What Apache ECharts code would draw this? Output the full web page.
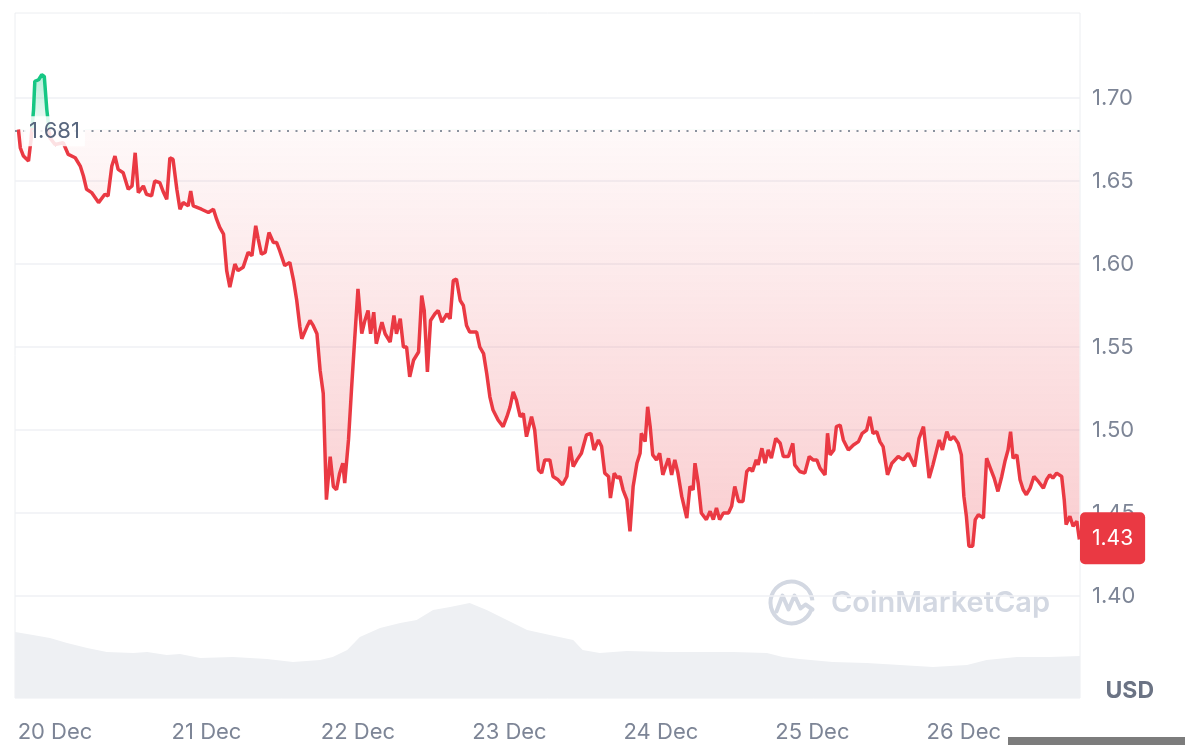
<!DOCTYPE html>
<html>
<head>
<meta charset="utf-8">
<title>Price chart</title>
<script src="https://cdn.jsdelivr.net/npm/echarts@6.0.0/dist/echarts.min.js"></script>
<style>
  html, body { margin: 0; padding: 0; background: #fff; }
  #chart { width: 1185px; height: 745px; }
</style>
</head>
<body>
<div id="chart"></div>
<script>
// price readings: hours from 20 Dec 00:00 and USD price
const hours = [
  -5.8, -5.5, -5.0, -4.2, -3.8, -3.4, -3.2, -2.6, -2.1, -1.7, -1.3, -0.8, 0.0, 1.3, 2.1, 3.2, 4.0, 4.5, 5.0, 5.8,
  6.9, 7.9, 8.4, 9.0, 9.5, 10.0, 10.8, 11.6, 12.2, 12.7, 13.2, 14.0, 14.5, 15.3, 15.8, 16.6, 17.2, 17.7, 18.2, 18.7,
  19.3, 19.8, 20.3, 21.1, 21.5, 21.9, 23.2, 24.3, 25.1, 25.6, 26.1, 26.7, 27.2, 27.7, 28.5, 29.0, 29.8, 30.6, 31.2, 31.8,
  32.2, 32.7, 33.3, 33.9, 34.6, 35.1, 35.6, 36.4, 37.2, 37.8, 38.3, 38.8, 39.1, 39.9, 40.4, 40.9, 41.5, 42.0, 42.5, 43.0,
  43.6, 44.1, 44.6, 45.1, 45.6, 45.9, 46.5, 47.0, 47.5, 48.0, 48.6, 49.1, 49.6, 50.0, 50.5, 50.9, 51.8, 52.3, 53.1, 53.7,
  54.1, 54.7, 55.2, 55.7, 56.2, 56.8, 57.6, 58.1, 58.5, 59.0, 59.5, 60.2, 60.7, 61.3, 62.1, 62.6, 63.1, 63.6, 64.2, 64.7,
  65.2, 65.7, 66.8, 67.3, 67.9, 68.4, 68.9, 69.4, 70.2, 71.0, 71.6, 72.1, 72.6, 73.1, 73.7, 74.2, 74.7, 75.5, 76.0, 76.6,
  77.1, 77.6, 78.4, 78.9, 79.7, 80.4, 81.1, 81.6, 82.1, 82.7, 83.4, 84.2, 84.9, 85.4, 86.1, 86.6, 87.1, 87.7, 88.0, 88.6,
  89.1, 89.5, 90.0, 90.6, 91.1, 91.6, 92.2, 92.7, 92.9, 93.5, 93.9, 94.3, 94.7, 95.3, 95.8, 96.3, 97.2, 97.7, 98.2, 98.7,
  99.3, 100.1, 100.6, 101.1, 101.4, 101.9, 102.4, 103.2, 103.8, 104.3, 104.8, 105.3, 105.9, 106.7, 107.2, 107.7, 108.3, 109.0, 109.6, 110.1,
  110.5, 111.1, 111.4, 112.0, 112.5, 113.0, 113.5, 114.2, 114.9, 115.4, 116.2, 116.9, 117.2, 118.0, 118.8, 119.5, 120.1, 120.7, 121.2, 122.0,
  122.4, 122.8, 123.4, 123.8, 124.4, 124.9, 125.7, 126.5, 127.3, 127.9, 128.6, 129.1, 129.6, 130.2, 130.7, 131.2, 131.9, 132.6, 133.6, 134.4,
  135.2, 135.7, 136.2, 136.9, 137.6, 138.0, 138.5, 139.1, 139.7, 140.1, 140.6, 141.3, 141.8, 142.4, 143.1, 143.6, 144.0, 144.4, 144.8, 145.4,
  145.8, 146.3, 147.1, 147.6, 148.1, 148.8, 149.4, 150.0, 150.5, 151.0, 151.4, 151.8, 152.4, 152.9, 153.4, 153.9, 154.5, 155.1, 155.8, 156.6,
  157.1, 157.6, 158.1, 158.7, 159.5, 159.9, 160.2, 160.8, 161.3, 161.9, 162.3
];
const prices = [
  1.681, 1.670, 1.665, 1.662, 1.675, 1.693, 1.710, 1.711, 1.714, 1.713, 1.693, 1.676, 1.672, 1.673, 1.666, 1.664, 1.659, 1.653, 1.645, 1.643,
  1.637, 1.642, 1.641, 1.659, 1.665, 1.657, 1.655, 1.645, 1.647, 1.667, 1.643, 1.647, 1.642, 1.641, 1.650, 1.649, 1.643, 1.639, 1.664, 1.663,
  1.645, 1.633, 1.637, 1.635, 1.644, 1.635, 1.633, 1.631, 1.633, 1.627, 1.622, 1.618, 1.596, 1.586, 1.600, 1.596, 1.598, 1.607, 1.605, 1.623,
  1.615, 1.606, 1.607, 1.619, 1.613, 1.613, 1.608, 1.599, 1.601, 1.590, 1.578, 1.562, 1.555, 1.562, 1.566, 1.563, 1.558, 1.536, 1.522, 1.458,
  1.484, 1.466, 1.464, 1.474, 1.480, 1.468, 1.494, 1.526, 1.556, 1.585, 1.558, 1.566, 1.572, 1.558, 1.571, 1.552, 1.565, 1.558, 1.553, 1.569,
  1.558, 1.567, 1.550, 1.550, 1.532, 1.542, 1.547, 1.581, 1.572, 1.535, 1.566, 1.570, 1.572, 1.565, 1.570, 1.567, 1.590, 1.591, 1.578, 1.575,
  1.563, 1.559, 1.559, 1.550, 1.546, 1.534, 1.520, 1.512, 1.506, 1.502, 1.508, 1.514, 1.523, 1.518, 1.508, 1.510, 1.496, 1.508, 1.500, 1.476,
  1.474, 1.482, 1.482, 1.472, 1.470, 1.467, 1.472, 1.490, 1.478, 1.482, 1.486, 1.497, 1.498, 1.488, 1.494, 1.490, 1.474, 1.472, 1.459, 1.474,
  1.471, 1.472, 1.464, 1.458, 1.439, 1.466, 1.480, 1.486, 1.498, 1.493, 1.514, 1.502, 1.485, 1.482, 1.486, 1.473, 1.483, 1.473, 1.482, 1.474,
  1.460, 1.447, 1.466, 1.464, 1.480, 1.468, 1.450, 1.446, 1.451, 1.446, 1.453, 1.446, 1.450, 1.450, 1.454, 1.466, 1.457, 1.457, 1.475, 1.477,
  1.475, 1.482, 1.479, 1.489, 1.480, 1.488, 1.483, 1.495, 1.492, 1.484, 1.484, 1.492, 1.479, 1.475, 1.474, 1.484, 1.482, 1.482, 1.477, 1.473,
  1.498, 1.485, 1.488, 1.502, 1.503, 1.494, 1.488, 1.491, 1.493, 1.498, 1.500, 1.508, 1.498, 1.499, 1.493, 1.490, 1.473, 1.480, 1.484, 1.482,
  1.486, 1.482, 1.478, 1.495, 1.502, 1.488, 1.471, 1.479, 1.488, 1.494, 1.488, 1.499, 1.494, 1.496, 1.492, 1.485, 1.460, 1.448, 1.430, 1.430,
  1.446, 1.449, 1.447, 1.483, 1.478, 1.471, 1.463, 1.472, 1.481, 1.488, 1.499, 1.483, 1.485, 1.470, 1.464, 1.461, 1.465, 1.472, 1.469, 1.465,
  1.470, 1.473, 1.471, 1.474, 1.472, 1.458, 1.443, 1.448, 1.442, 1.445, 1.434
];

// 24h volume (millions)
const volHours = [
  -6.3, -3.5, -0.8, 1.9, 5.1, 8.2, 12.4, 14.6, 17.7, 19.8, 23.0, 28.2, 33.6, 37.7, 42.0, 44.0, 46.3, 48.3, 51.5, 54.7,
  57.3, 59.9, 62.6, 65.7, 68.4, 71.6, 74.8, 78.4, 82.1, 83.6, 86.3, 90.6, 97.0, 107.4, 112.8, 115.3, 118.0, 123.2, 128.6, 133.9,
  139.1, 144.5, 147.6, 152.4, 157.6, 162.4
];
const volumes = [
  66, 63, 60, 55, 50, 46, 45, 46, 43, 44, 40, 41, 39, 36, 38, 41, 48, 61, 70, 75,
  78, 88, 91, 95, 88, 78, 68, 63, 58, 48, 45, 47, 46, 46, 45, 41, 39, 36, 35, 33,
  31, 33, 38, 41, 41, 42
];

// day ticks: hours from 20 Dec 00:00 and their labels
const dayHours = [0, 24, 48, 72, 96, 120, 144];
const dayLabels = ['20 Dec', '21 Dec', '22 Dec', '23 Dec', '24 Dec', '25 Dec', '26 Dec'];

const red = '#ea3943';
const green = '#16c784';
const labelGrey = '#7d8596';
const gridGrey = '#eff1f4';

const xMin = -6.34;
const xMax = 162.4;

const openPrice = prices[0];
const lastPrice = prices[prices.length - 1];
const hi = Math.max(...prices);
const lo = Math.min(...prices);
// where the opening price sits inside the line's vertical extent (0 = top)
const split = (hi - openPrice) / (hi - lo);

const priceData = hours.map((h, i) => [h, prices[i]]);
const volData = volHours.map((h, i) => [h, volumes[i]]);

const lineColor = new echarts.graphic.LinearGradient(0, 0, 0, 1, [
  { offset: 0, color: green },
  { offset: split, color: green },
  { offset: split, color: red },
  { offset: 1, color: red }
]);
const areaColor = new echarts.graphic.LinearGradient(0, 0, 0, 1, [
  { offset: 0, color: 'rgba(22,199,132,0.30)' },
  { offset: split, color: 'rgba(22,199,132,0.05)' },
  { offset: split, color: 'rgba(234,57,67,0.03)' },
  { offset: 1, color: 'rgba(234,57,67,0.25)' }
]);

const chart = echarts.init(document.getElementById('chart'));

chart.setOption({
  animation: false,
  textStyle: { fontFamily: 'Inter, "Noto Sans", sans-serif' },
  title: {
    text: 'USD',
    right: 31,
    top: 680,
    padding: 0,
    textStyle: { fontSize: 23, fontWeight: 'bold', color: '#6b7384', fontFamily: 'Inter' }
  },
  grid: [
    { left: 15, right: 105, top: 13, bottom: 47, show: true, borderColor: '#eceef1', borderWidth: 1 },
    { left: 15, right: 105, top: 15, bottom: 66 }
  ],
  xAxis: [
    {
      gridIndex: 0,
      type: 'value',
      min: xMin,
      max: xMax,
      axisLine: { show: false },
      axisTick: { show: false },
      splitLine: { show: false },
      axisLabel: {
        customValues: dayHours,
        formatter: v => dayLabels[dayHours.indexOf(Math.round(v))] || '',
        color: labelGrey,
        fontSize: 22,
        margin: 23
      }
    },
    { gridIndex: 1, type: 'value', min: xMin, max: xMax, show: false }
  ],
  yAxis: [
    { gridIndex: 0, type: 'value', min: 0, max: 685, show: false },
    {
      gridIndex: 1,
      type: 'value',
      position: 'right',
      min: 1.35,
      max: 1.75,
      interval: 0.05,
      axisLine: { show: false },
      axisTick: { show: false },
      splitLine: {
        lineStyle: {
          color: ['transparent', gridGrey, gridGrey, gridGrey, gridGrey, gridGrey, gridGrey, gridGrey, 'transparent'],
          width: 1.5
        }
      },
      axisLabel: {
        formatter: v => (v < 1.375 || v > 1.725) ? '' : v.toFixed(2),
        color: labelGrey,
        fontSize: 22,
        margin: 12
      }
    }
  ],
  graphic: [
    {
      type: 'group',
      left: 768,
      top: 579,
      z: 0,
      children: [
        {
          type: 'arc',
          shape: { cx: 24, cy: 24, r: 21, startAngle: 0.35, endAngle: Math.PI * 2 - 0.1 },
          style: { stroke: '#d3d8e2', lineWidth: 4, fill: 'none' }
        },
        {
          type: 'polyline',
          shape: { points: [[9, 33], [15, 17], [21, 31], [27, 17], [33, 30], [38, 26], [45, 31]] },
          style: { stroke: '#d3d8e2', lineWidth: 4, fill: 'none', lineJoin: 'round', lineCap: 'round' }
        }
      ]
    },
    {
      type: 'text',
      left: 831,
      top: 589,
      z: 0,
      style: { text: 'CoinMarketCap', fontSize: 29, fontWeight: 600, fill: '#d3d8e2', fontFamily: 'Inter' }
    },
    {
      type: 'rect',
      left: 1008,
      top: 737,
      shape: { width: 177, height: 8 },
      style: { fill: '#7c7c7c' }
    }
  ],
  series: [
    {
      name: 'Volume',
      type: 'line',
      xAxisIndex: 0,
      yAxisIndex: 0,
      data: volData,
      showSymbol: false,
      silent: true,
      z: 1,
      lineStyle: { width: 0 },
      areaStyle: { color: '#eef0f3', opacity: 1, origin: 'start' }
    },
    {
      name: 'Price',
      type: 'line',
      xAxisIndex: 1,
      yAxisIndex: 1,
      data: priceData,
      showSymbol: false,
      z: 3,
      lineStyle: { width: 3.5, color: lineColor },
      areaStyle: { origin: openPrice, opacity: 1, color: areaColor },
      markLine: {
        silent: true,
        symbol: 'none',
        z: 5,
        data: [
          {
            yAxis: openPrice,
            lineStyle: { type: [2, 6.5], color: '#8a919e', width: 2 },
            label: {
              position: 'insideStart',
              formatter: () => openPrice.toFixed(3),
              color: '#58667e',
              fontSize: 22,
              backgroundColor: 'rgba(255,255,255,0.85)',
              padding: [4, 5],
              distance: 9
            }
          },
          {
            yAxis: lastPrice,
            lineStyle: { color: 'rgba(0,0,0,0)', width: 0 },
            label: {
              show: true,
              position: 'end',
              formatter: () => lastPrice.toFixed(2),
              color: '#fff',
              fontSize: 21,
              lineHeight: 20,
              backgroundColor: red,
              borderRadius: 5,
              padding: [16, 12],
              offset: [0, -8],
              distance: 0
            }
          }
        ]
      }
    }
  ]
});
</script>
</body>
</html>
